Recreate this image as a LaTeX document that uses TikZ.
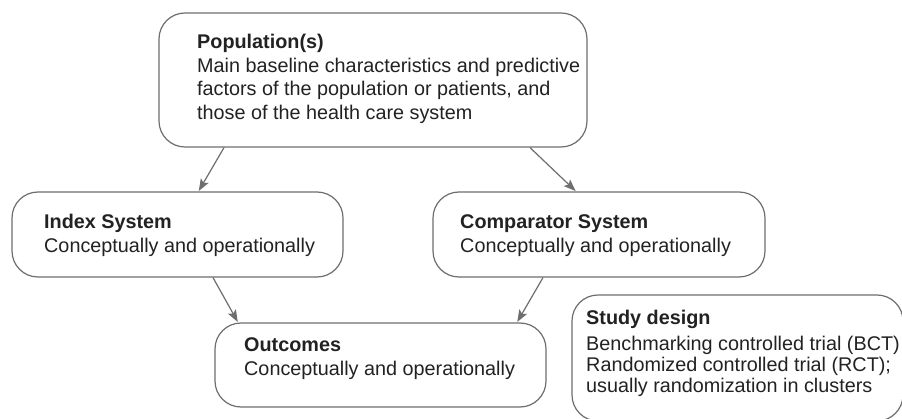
\documentclass[tikz,border=0pt]{standalone}
\usepackage{fontspec}
\setmainfont{Liberation Sans}
\usetikzlibrary{arrows.meta}
\definecolor{edgegray}{HTML}{6E6E6E}
\definecolor{inkgray}{HTML}{222222}
\tikzset{
  box/.style={draw=edgegray, line width=1.2pt, rounded corners=26pt,
    inner sep=0pt, fill=white},
  label/.style={anchor=base west, inner sep=0pt, text=inkgray,
    font=\fontsize{19.8}{23.5}\selectfont},
  link/.style={draw=edgegray, line width=1.2pt,
    -{Stealth[length=12pt,width=9pt,inset=2.5pt]}, shorten >=0.5pt},
}
\begin{document}
\begin{tikzpicture}[x=1pt, y=-1pt]
  \clip (0,0) rectangle (902,419);
  \fill[white] (0,0) rectangle (902,419);

  % boxes
  \node[box, minimum width=428pt, minimum height=134pt] (pop) at (373,80) {};
  \node[box, minimum width=331pt, minimum height=85pt] (idx) at (177.5,234.5) {};
  \node[box, minimum width=332pt, minimum height=85pt] (cmp) at (599,234.5) {};
  \node[box, minimum width=331pt, minimum height=84pt] (out) at (380.5,365) {};
  \node[box, minimum width=331pt, minimum height=126pt] (std) at (737.5,358) {};

  % texts
  \node[label] (popt) at (197,49) {\begin{tabular}[t]{@{}l@{}}
    \textbf{Population(s)}\\
    Main baseline characteristics and predictive\\
    factors of the population or patients, and\\
    those of the health care system\end{tabular}};
  \node[label] (idxt) at (44,229) {\begin{tabular}[t]{@{}l@{}}
    \textbf{Index System}\\
    Conceptually and operationally\end{tabular}};
  \node[label] (cmpt) at (460,229) {\begin{tabular}[t]{@{}l@{}}
    \textbf{Comparator System}\\
    Conceptually and operationally\end{tabular}};
  \node[label] (outt) at (244,352) {\begin{tabular}[t]{@{}l@{}}
    \textbf{Outcomes}\\
    Conceptually and operationally\end{tabular}};
  \node[label, font=\fontsize{19.8}{21}\selectfont] (stdt) at (586,325) {\begin{tabular}[t]{@{}l@{}}
    \textbf{Study design}\\[5pt]
    Benchmarking controlled trial (BCT)\\
    Randomized controlled trial (RCT);\\
    usually randomization in clusters\end{tabular}};

  % connectors
  \draw[link] ([xshift=-149pt]pop.south) -- ([xshift=21pt]idx.north);
  \draw[link] ([xshift=157pt]pop.south) -- ([xshift=-23pt]cmp.north);
  \draw[link] ([xshift=35.5pt]idx.south) -- ([xshift=-142.5pt]out.north);
  \draw[link] ([xshift=-56pt]cmp.south) -- ([xshift=136.5pt]out.north);
\end{tikzpicture}
\end{document}
